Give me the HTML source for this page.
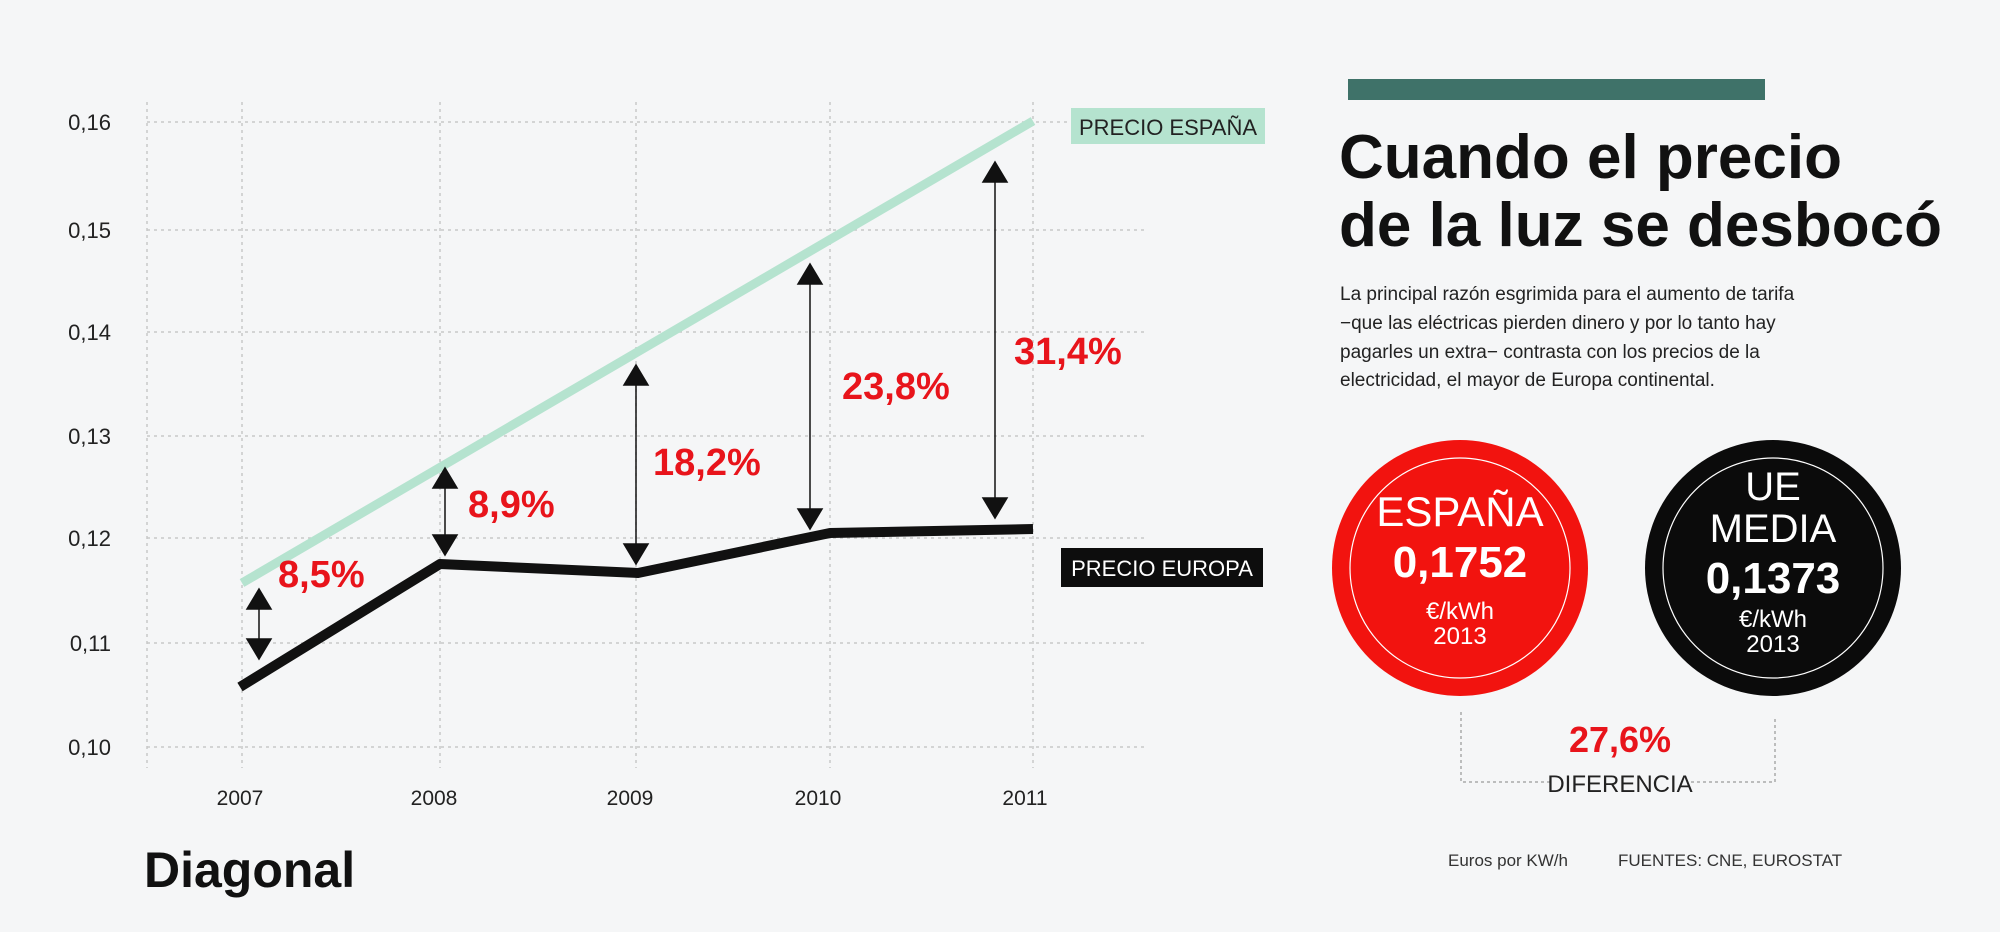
<!DOCTYPE html>
<html><head><meta charset="utf-8"><style>
body{margin:0;background:#f5f6f7;}
svg{display:block;font-family:"Liberation Sans",sans-serif;}
</style></head><body>
<svg width="2000" height="932" viewBox="0 0 2000 932">
<rect width="2000" height="932" fill="#f5f6f7"/>
<g stroke="#c8c8c8" stroke-width="1.5" stroke-dasharray="3,4">
<line x1="147" y1="122" x2="1148" y2="122"/>
<line x1="147" y1="230" x2="1148" y2="230"/>
<line x1="147" y1="332" x2="1148" y2="332"/>
<line x1="147" y1="436" x2="1148" y2="436"/>
<line x1="147" y1="538" x2="1148" y2="538"/>
<line x1="147" y1="643" x2="1148" y2="643"/>
<line x1="147" y1="747" x2="1148" y2="747"/>
<line x1="147" y1="102" x2="147" y2="768"/>
<line x1="242" y1="102" x2="242" y2="768"/>
<line x1="440" y1="102" x2="440" y2="768"/>
<line x1="636" y1="102" x2="636" y2="768"/>
<line x1="830" y1="102" x2="830" y2="768"/>
<line x1="1033" y1="102" x2="1033" y2="768"/>
</g>
<g font-size="22" fill="#222" text-anchor="end">
<text x="111" y="130">0,16</text><text x="111" y="238">0,15</text><text x="111" y="340">0,14</text>
<text x="111" y="444">0,13</text><text x="111" y="546">0,12</text><text x="111" y="651">0,11</text><text x="111" y="755">0,10</text>
</g>
<g font-size="21" fill="#222" text-anchor="middle">
<text x="240" y="805">2007</text><text x="434" y="805">2008</text><text x="630" y="805">2009</text><text x="818" y="805">2010</text><text x="1025" y="805">2011</text>
</g>
<polyline points="242,583 1033,121" stroke="#b5e3cf" stroke-width="9" fill="none"/>
<polyline points="240,687 440,564 638,573 830,533 1033,529" stroke="#111" stroke-width="10" fill="none" stroke-linejoin="round"/>
<rect x="1071" y="108" width="194" height="36" fill="#b5e3cf"/>
<text x="1168" y="135" font-size="22" fill="#222" text-anchor="middle">PRECIO ESPAÑA</text>
<rect x="1061" y="548" width="202" height="39" fill="#0d0d0d"/>
<text x="1162" y="576" font-size="22" fill="#fff" text-anchor="middle">PRECIO EUROPA</text>
<g stroke="#111" stroke-width="1.5" fill="#111">
<line x1="259" y1="600" x2="259" y2="648"/><polygon points="247,609 271,609 259,589"/><polygon points="247,639 271,639 259,659"/>
<line x1="445" y1="478" x2="445" y2="545"/><polygon points="433,488 457,488 445,468"/><polygon points="433,535 457,535 445,555"/>
<line x1="636" y1="375" x2="636" y2="554"/><polygon points="624,385 648,385 636,365"/><polygon points="624,544 648,544 636,564"/>
<line x1="810" y1="274" x2="810" y2="519"/><polygon points="798,284 822,284 810,264"/><polygon points="798,509 822,509 810,529"/>
<line x1="995" y1="172" x2="995" y2="508"/><polygon points="983,182 1007,182 995,162"/><polygon points="983,498 1007,498 995,518"/>
</g>
<g font-size="38" font-weight="bold" fill="#e8141b">
<text x="278" y="587">8,5%</text><text x="468" y="517">8,9%</text><text x="653" y="475">18,2%</text>
<text x="842" y="399">23,8%</text><text x="1014" y="364">31,4%</text>
</g>
<text x="144" y="887" font-size="50" font-weight="bold" fill="#111">Diagonal</text>
<rect x="1348" y="79" width="417" height="21" fill="#3f7269"/>
<g font-size="62" font-weight="bold" fill="#111">
<text x="1339" y="178">Cuando el precio</text>
<text x="1339" y="246">de la luz se desbocó</text>
</g>
<g font-size="19" fill="#222">
<text x="1340" y="300">La principal razón esgrimida para el aumento de tarifa</text>
<text x="1340" y="329">−que las eléctricas pierden dinero y por lo tanto hay</text>
<text x="1340" y="358">pagarles un extra− contrasta con los precios de la</text>
<text x="1340" y="386">electricidad, el mayor de Europa continental.</text>
</g>
<circle cx="1460" cy="568" r="128" fill="#f2130f"/>
<circle cx="1460" cy="568" r="110" fill="none" stroke="#fff" stroke-width="1.2"/>
<circle cx="1773" cy="568" r="128" fill="#0b0b0b"/>
<circle cx="1773" cy="568" r="110" fill="none" stroke="#fff" stroke-width="1.2"/>
<g fill="#fff" text-anchor="middle">
<text x="1460" y="526" font-size="42">ESPAÑA</text>
<text x="1460" y="577" font-size="44" font-weight="bold">0,1752</text>
<text x="1460" y="619" font-size="24">€/kWh</text>
<text x="1460" y="644" font-size="24">2013</text>
<text x="1773" y="500" font-size="40">UE</text>
<text x="1773" y="542" font-size="40">MEDIA</text>
<text x="1773" y="593" font-size="44" font-weight="bold">0,1373</text>
<text x="1773" y="627" font-size="24">€/kWh</text>
<text x="1773" y="652" font-size="24">2013</text>
</g>
<g stroke="#aaa" stroke-width="1.5" stroke-dasharray="3,3" fill="none">
<polyline points="1461,712 1461,782 1775,782 1775,716"/>
</g>
<rect x="1552" y="765" width="136" height="30" fill="#f5f6f7"/>
<text x="1620" y="752" font-size="36" font-weight="bold" fill="#e8141b" text-anchor="middle">27,6%</text>
<text x="1620" y="792" font-size="24" fill="#222" text-anchor="middle">DIFERENCIA</text>
<g font-size="17" fill="#333">
<text x="1448" y="866">Euros por KW/h</text>
<text x="1618" y="866">FUENTES: CNE, EUROSTAT</text>
</g>
</svg>
</body></html>
